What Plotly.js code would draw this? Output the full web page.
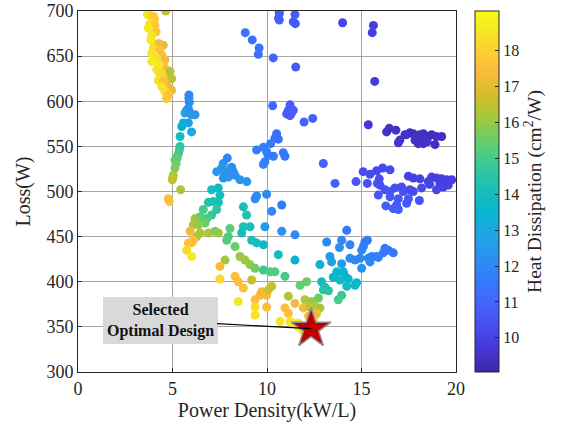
<!DOCTYPE html>
<html>
<head>
<meta charset="utf-8">
<script src="https://cdn.plot.ly/plotly-3.0.1.min.js"></script>
<style>html,body{margin:0;padding:0;background:#fff;}#chart{width:568px;height:428px;}</style>
</head>
<body>
<div id="chart"></div>
<script>
// Power density (kW/L)
const powerDensity = [
 4.64,3.67,3.85,4.00,4.05,3.81,4.07,3.72,4.13,3.90,3.85,4.25,4.51,4.34,3.98,4.34,3.90,4.43,4.16,4.60,3.90,4.51,4.30,4.16,4.69,4.34,4.70,4.45,4.87,4.96,4.25,4.51,4.69,4.43,4.87,4.95,4.60,4.78,4.69,
 5.87,5.87,5.89,5.75,5.84,5.66,5.93,6.19,6.01,5.84,5.57,5.49,6.01,5.40,
 5.40,5.36,5.31,5.22,5.13,5.25,5.19,5.13,5.04,5.01,4.99,5.43,4.78,4.83,
 7.69,7.90,8.13,8.22,7.95,7.69,7.34,7.60,8.04,8.57,8.93,7.78,8.31,7.07,7.42,7.51,
 6.90,7.16,7.43,7.34,7.07,6.81,6.63,6.46,6.72,6.19,6.10,6.37,5.93,6.46,6.28,6.10,6.01,5.84,5.75,6.01,
 6.90,7.25,7.43,8.04,7.95,7.87,8.31,8.57,8.84,9.10,9.37,9.81,10.16,10.42,10.95,7.78,7.51,8.31,8.48,8.75,
 9.19,7.51,8.48,9.37,9.63,9.72,9.98,10.07,10.25,9.37,9.37,9.98,8.75,8.92,9.10,9.19,9.45,9.81,8.75,8.66,
 9.89,10.25,10.78,10.78,11.48,10.60,11.48,11.13,11.48,10.95,11.13,10.69,11.22,11.66,12.01,11.92,12.10,11.75,
 14.22,13.16,13.95,14.39,13.83,15.18,15.31,15.10,15.01,13.33,13.42,13.95,14.39,14.66,14.92,15.36,15.54,15.80,16.15,16.42,16.68,16.24,15.01,15.45,15.89,
 12.80,13.69,14.04,14.13,13.51,13.86,14.30,14.22,14.66,14.74,12.89,13.07,12.98,13.25,13.95,13.77,12.72,12.36,12.54,12.80,12.27,12.54,
 11.66,11.92,11.39,12.45,12.63,12.20,
 10.65,10.65,10.61,10.65,11.48,11.39,11.50,14.00,15.63,15.57,8.85,9.22,9.58,9.54,10.33,11.52,15.70,
 10.30,11.22,11.13,11.04,11.30,11.22,11.39,11.96,12.42,10.51,10.60,10.42,9.45,9.81,10.19,9.98,10.07,9.89,9.81,10.86,10.95,10.34,12.98,13.60,9.45,9.98,9.37,
 15.36,16.33,16.47,16.82,17.30,17.56,17.74,18.09,18.27,18.53,18.71,18.97,19.24,17.03,16.95,17.83,18.00,18.36,18.48,18.27,18.89,18.00,17.39,
 15.09,15.45,15.80,16.12,16.51,14.71,15.31,15.84,15.94,15.98,16.24,16.51,16.77,17.12,17.21,17.56,15.89,16.51,16.95,17.48,17.74,18.06,16.29,16.68,16.86,16.95,17.39,
 17.48,17.74,18.09,18.53,18.71,18.97,19.24,19.50,19.77,18.97,19.33,18.18,18.60,19.59,19.15
];
// Loss (W)
const loss = [
 700,696,695,694,691,686,684,681,677,673,668,664,662,663,659,657,653,651,648,646,644,640,640,635,635,629,628,631,633,625,623,622,618,616,614,612,611,607,603,
 607,603,599,590,592,587,587,585,585,576,576,572,566,561,
 550,546,542,538,535,537,531,526,518,515,513,502,492,489,
 531,537,527,522,516,515,522,526,524,513,511,520,518,502,504,496,
 488,489,488,480,474,470,480,472,465,470,463,463,456,454,450,446,443,443,435,428,
 454,456,454,459,450,446,439,428,424,419,415,413,411,411,406,424,417,406,400,393,
 402,403,378,380,385,389,385,391,395,372,363,372,483,474,461,446,443,441,461,454,
 461,478,485,456,452,430,424,384,376,371,365,356,356,354,380,371,400,396,
 457,444,446,441,438,444,446,439,435,428,422,420,426,424,426,426,428,428,432,435,432,437,415,422,427,
 419,411,411,406,405,402,403,395,396,399,400,394,391,390,385,380,382,378,373,371,372,363,
 350,345,354,358,365,362,
 699,697,692,690,696,688,686,687,684,676,676,668,659,652,648,638,622,
 595,596,590,586,587,584,590,577,581,564,558,559,546,549,553,544,540,533,530,543,539,539,531,509,495,497,492,
 574,566,570,568,563,565,564,563,564,561,563,561,561,557,554,557,555,557,555,553,552,553,563,
 522,519,523,526,524,511,509,509,514,507,502,500,504,505,500,502,496,494,492,492,500,490,484,481,485,480,487,
 517,515,514,511,516,515,514,513,513,502,505,504,508,507,509
];
// Heat dissipation (cm^2/W)
const heatDissipation = [
 16.6,18.6,18.3,17.8,17.9,18.5,17.8,18.6,17.7,18.5,18.6,17.5,17.0,17.2,18.4,17.6,18.6,17.4,18.4,17.4,18.7,17.5,18.6,18.5,17.3,18.3,17.5,18.2,16.3,16.4,18.4,17.6,17.4,18.5,17.3,17.2,18.4,17.6,17.8,
 12.0,12.0,12.1,12.3,12.2,12.8,12.3,12.3,12.4,12.6,13.2,13.5,13.0,14.0,
 14.5,14.8,15.0,15.2,15.4,15.3,15.5,15.7,16.2,16.4,16.5,16.2,17.5,17.6,
 12.2,12.0,12.1,12.2,12.3,12.4,12.5,12.4,12.2,12.4,12.3,12.3,12.2,14.0,13.8,14.0,
 14.3,14.2,14.2,14.6,14.8,15.0,15.0,15.2,15.5,16.0,16.3,16.0,17.3,16.2,16.2,17.5,17.6,17.6,18.3,18.6,
 16.3,15.7,16.0,15.3,15.0,15.2,15.5,16.0,16.1,15.9,15.6,14.8,15.2,15.2,15.0,16.2,17.3,17.5,17.5,17.6,
 16.6,18.2,18.5,17.5,17.4,17.2,17.3,16.7,16.5,18.3,18.4,17.4,14.0,14.3,14.0,14.0,14.0,13.8,14.2,14.0,
 12.5,12.0,11.6,12.3,12.0,13.8,13.5,16.3,17.3,17.5,17.5,18.5,18.5,18.4,16.3,17.3,15.5,15.4,
 11.4,12.0,12.0,11.8,12.2,11.6,11.5,11.7,11.8,12.5,12.6,12.5,12.0,12.0,11.9,11.8,11.7,11.6,11.5,11.4,11.5,11.5,12.2,12.0,11.7,
 13.3,13.5,13.4,13.5,13.6,13.8,13.6,13.9,13.8,13.6,14.0,14.3,14.4,14.5,14.8,15.0,15.5,16.0,16.3,16.2,16.4,17.3,
 18.5,18.4,18.6,17.5,17.2,17.4,
 10.9,10.9,10.9,10.9,10.7,10.7,10.7,10.1,9.9,9.9,11.4,11.3,11.3,11.3,11.0,10.7,9.8,
 11.2,10.8,10.8,10.8,10.8,10.8,10.8,10.9,10.9,11.3,11.3,11.3,11.7,11.7,11.6,11.7,11.7,11.7,11.8,11.5,11.5,11.6,10.9,10.9,12.0,12.0,12.1,
 9.7,9.5,9.5,9.5,9.5,9.4,9.4,9.4,9.4,9.4,9.4,9.4,9.4,9.6,9.6,9.5,9.5,9.5,9.5,9.5,9.4,9.5,9.5,
 10.3,10.3,10.2,10.2,10.2,10.6,10.4,10.4,10.3,10.4,10.5,10.5,10.4,10.3,10.4,10.3,10.6,10.7,10.6,10.6,10.3,10.5,10.8,10.8,10.7,10.8,10.6,
 10.0,10.0,10.0,10.0,9.9,9.9,9.9,9.9,9.9,10.1,10.0,10.2,10.0,10.0,10.0
];
// Selected design
const selectedX = [12.33];
const selectedY = [348];
const colorTicks = [10,11,12,13,14,15,16,17,18];

const parula = [
 [0.000,'rgb(62,38,168)'],[0.063,'rgb(69,55,213)'],[0.127,'rgb(72,77,240)'],
 [0.190,'rgb(69,99,253)'],[0.254,'rgb(50,124,252)'],[0.317,'rgb(43,145,239)'],
 [0.381,'rgb(32,165,227)'],[0.444,'rgb(8,181,208)'],[0.508,'rgb(25,191,182)'],
 [0.571,'rgb(55,200,151)'],[0.635,'rgb(100,205,111)'],[0.698,'rgb(157,201,67)'],
 [0.762,'rgb(209,191,39)'],[0.825,'rgb(248,186,61)'],[0.841,'rgb(254,190,60)'],
 [0.889,'rgb(252,207,48)'],[0.952,'rgb(245,233,36)'],[1.000,'rgb(249,251,21)']
];
const serif = 'Liberation Serif, Times New Roman, serif';
const ink = '#262626';

const traces = [{
  type:'scatter', mode:'markers', x: powerDensity, y: loss,
  marker:{size:9, color: heatDissipation, colorscale: parula, cmin:9.05, cmax:19.1,
    line:{width:0},
    colorbar:{x:1.05, xanchor:'left', xpad:0, y:0.5, yanchor:'middle', ypad:0, len:1, lenmode:'fraction',
      thickness:24, outlinecolor:ink, outlinewidth:1, tickvals: colorTicks, ticks:'inside', ticklen:4,
      tickcolor:ink, tickfont:{family:serif, size:16, color:ink},
      title:{text:'Heat Dissipation (cm<sup>2</sup>/W)', side:'right', font:{family:serif, size:19.5, color:ink}}}},
  hoverinfo:'skip', showlegend:false
},{
  type:'scatter', mode:'markers', x: selectedX, y: selectedY,
  marker:{symbol:'star', size:30, color:'#c00000', line:{color:'#8c8c8c', width:1.5}},
  showlegend:false, hoverinfo:'skip'
}];

const layout = {
  width:568, height:428, margin:{l:78, r:112, t:11, b:56},
  paper_bgcolor:'#fff', plot_bgcolor:'#fff', showlegend:false,
  xaxis:{range:[0,20], tickvals:[0,5,10,15,20], showgrid:true, gridcolor:'#a6a6a6', gridwidth:1,
    zeroline:false, showline:true, linecolor:ink, linewidth:1, mirror:true, ticks:'inside', ticklen:4, tickcolor:ink,
    tickfont:{family:serif, size:18, color:ink},
    title:{text:'Power Density(kW/L)', font:{family:serif, size:20, color:ink}, standoff:2}},
  yaxis:{range:[300,700], tickvals:[300,350,400,450,500,550,600,650,700], showgrid:true, gridcolor:'#a6a6a6', gridwidth:1,
    zeroline:false, showline:true, linecolor:ink, linewidth:1, mirror:true, ticks:'inside', ticklen:4, tickcolor:ink,
    tickfont:{family:serif, size:18, color:ink},
    title:{text:'Loss(W)', font:{family:serif, size:20, color:ink}, standoff:10}},
  annotations:[{x:selectedX[0], y:selectedY[0], xref:'x', yref:'y',
    text:'<b>Selected<br>Optimal Design</b>', showarrow:true, arrowhead:0, arrowwidth:1.2, arrowcolor:'#000',
    ax:-151, ay:-8, standoff:0, bgcolor:'#d9d9d9', bordercolor:'#d9d9d9', borderwidth:1, borderpad:3,
    font:{family:serif, size:16, color:'#111'}, align:'center'}]
};
Plotly.newPlot('chart', traces, layout, {displayModeBar:false, staticPlot:true});
</script>
</body>
</html>
